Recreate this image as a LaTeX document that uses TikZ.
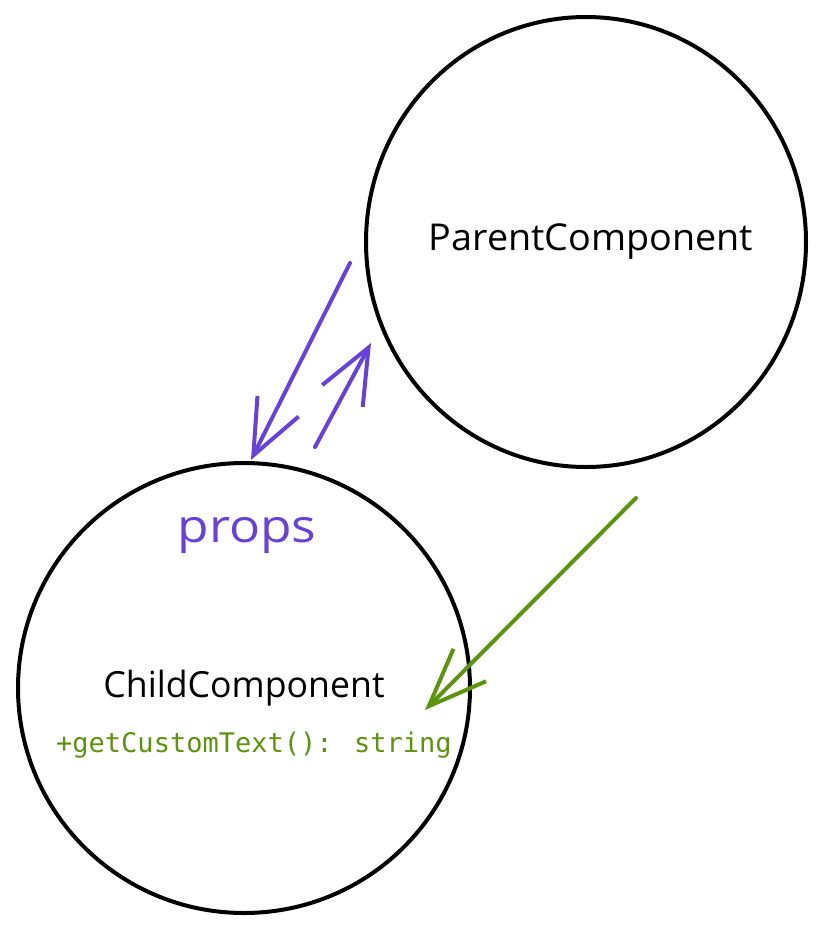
\documentclass[tikz,border=0pt]{standalone}
\usepackage{fontspec}
\setmainfont{Open Sans}
\newfontfamily\monofont{DejaVu Sans Mono}
\usetikzlibrary{arrows.meta,shapes.geometric}
\definecolor{violet}{HTML}{6741D9}
\definecolor{leaf}{HTML}{5C940D}
\tikzset{
  comp/.style={draw=black, line width=4pt, ellipse, inner sep=0pt, font=\fontsize{36}{42}\selectfont},
  purplearrow/.style={draw=violet, line width=4pt, line cap=round, line join=round,
    -{Straight Barb[length=55pt,width=46pt,line width=4pt]}},
  greenarrow/.style={draw=leaf, line width=4pt, line cap=round, line join=round,
    -{Straight Barb[length=58pt,width=46pt,line width=4pt]}},
}
\begin{document}
\begin{tikzpicture}[x=1pt,y=-1pt]
\useasboundingbox (0,0) rectangle (836,932);
\node[comp, minimum width=440pt, minimum height=450pt] (parent) at (586,242) {};
\node[comp, minimum width=452pt, minimum height=450pt] (child) at (244,688) {};
\node[font=\fontsize{37}{42}\selectfont] (ptext) at (591,242) {\scalebox{1.02}[1]{ParentComponent}};
\node[font=\fontsize{36}{42}\selectfont] (ctext) at (244,688) {\scalebox{0.99}[1]{ChildComponent}};
\node[text=violet, font=\fontsize{46}{50}\selectfont] (props) at (247,535) {\scalebox{1.12}[1]{props}};
\node[text=leaf, font=\monofont\fontsize{27}{32}\selectfont] (method) at (254,745) {+getCustomText(): string};
\coordinate (a1s) at (350,263);
\coordinate (a1e) at (251,460);
\coordinate (a2s) at (315,447);
\coordinate (a2e) at (371,343);
\coordinate (g1s) at (636,498);
\coordinate (g1e) at (425,710);
\draw[purplearrow] (a1s) -- (a1e);
\draw[purplearrow] (a2s) -- (a2e);
\draw[greenarrow] (g1s) -- (g1e);
\end{tikzpicture}
\end{document}
